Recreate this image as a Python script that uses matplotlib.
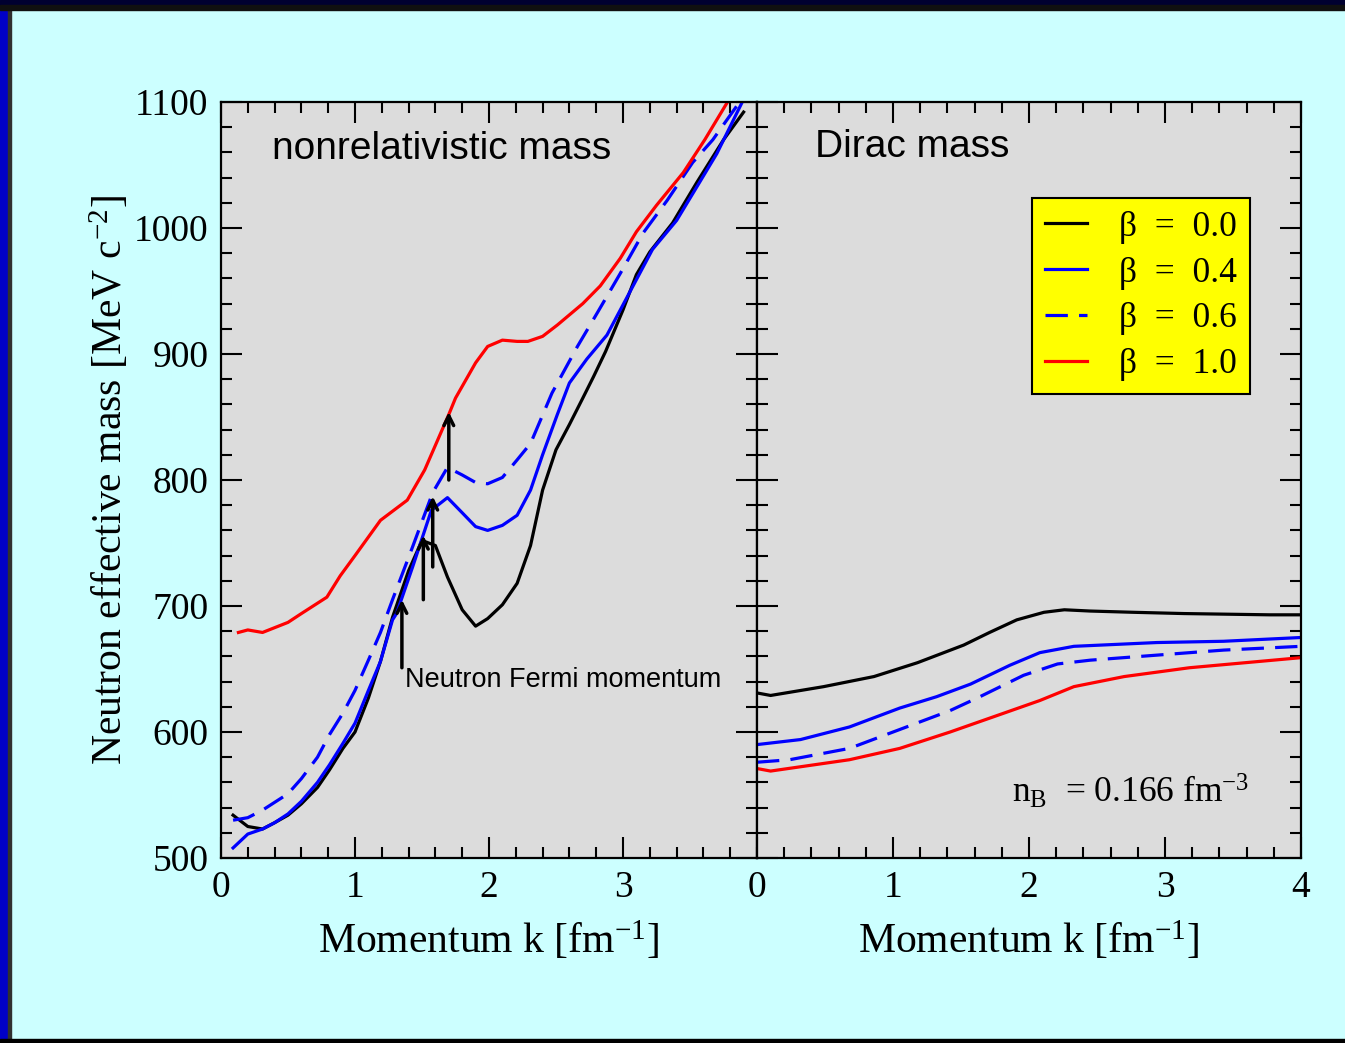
import matplotlib
matplotlib.use("Agg")
import matplotlib.pyplot as plt
from matplotlib.patches import Rectangle
from matplotlib.lines import Line2D
from matplotlib.ticker import MultipleLocator

plt.rcParams['font.family'] = ['Liberation Serif', 'DejaVu Serif']
plt.rcParams['mathtext.fontset'] = 'custom'
plt.rcParams['mathtext.rm'] = 'Liberation Serif'
plt.rcParams['mathtext.it'] = 'Liberation Serif:italic'

# ---------------- data ----------------
# Left panel: nonrelativistic mass
k_b00_L = [0.09, 0.20, 0.31, 0.40, 0.50, 0.60, 0.72, 0.81, 0.91, 1.00, 1.10, 1.19, 1.28, 1.40, 1.50,
           1.60, 1.69, 1.80, 1.90, 1.99, 2.10, 2.21, 2.31, 2.40, 2.50, 2.60, 2.70, 2.78, 2.87, 3.00,
           3.10, 3.20, 3.37, 3.55, 3.75, 3.90]
m_b00_L = [534, 525, 523, 528, 534, 543, 556, 570, 587, 600, 627, 656, 691, 728, 752,
           748, 723, 697, 684, 690, 701, 718, 748, 792, 824, 844, 865, 882, 902, 935,
           963, 981, 1004, 1036, 1070, 1092]

k_b04_L = [0.09, 0.20, 0.31, 0.40, 0.50, 0.60, 0.72, 0.81, 0.91, 1.00, 1.10, 1.19, 1.28, 1.31, 1.43,
           1.57, 1.69, 1.80, 1.90, 1.99, 2.10, 2.21, 2.31, 2.40, 2.51, 2.60, 2.73, 2.88, 3.07, 3.22,
           3.40, 3.57, 3.70, 3.89]
m_b04_L = [508, 519, 523, 528, 535, 545, 560, 574, 591, 607, 633, 656, 689, 694, 731,
           776, 786, 774, 763, 760, 764, 772, 792, 820, 852, 877, 896, 915, 953, 983,
           1006, 1036, 1059, 1100]

k_b06_L = [0.09, 0.20, 0.31, 0.50, 0.60, 0.72, 0.81, 0.91, 1.00, 1.10, 1.19, 1.28, 1.43, 1.58,
           1.69, 1.80, 1.90, 1.99, 2.10, 2.21, 2.31, 2.47, 2.66, 2.81, 2.98, 3.15, 3.33, 3.52,
           3.67, 3.87]
m_b06_L = [530, 532, 538, 551, 563, 580, 598, 615, 633, 657, 679, 705, 747, 790,
           810, 804, 798, 797, 802, 816, 829, 869, 906, 933, 964, 996, 1022, 1052,
           1070, 1100]

k_b10_L = [0.13, 0.20, 0.31, 0.50, 0.60, 0.79, 0.89, 1.00, 1.19, 1.39, 1.52, 1.70, 1.75, 1.90,
           1.99, 2.10, 2.21, 2.29, 2.40, 2.51, 2.70, 2.83, 2.98, 3.10, 3.25, 3.45, 3.61, 3.78]
m_b10_L = [679, 681, 679, 687, 694, 707, 724, 740, 768, 784, 808, 852, 865, 893,
           906, 911, 910, 910, 914, 923, 940, 954, 976, 997, 1018, 1044, 1070, 1100]

# Right panel: Dirac mass
k_b00_R = [0.00, 0.10, 0.49, 0.86, 1.18, 1.52, 1.71, 1.91, 2.11, 2.26, 2.45, 2.77, 3.14, 3.77, 4.00]
m_b00_R = [631, 629, 636, 644, 655, 669, 679, 689, 695, 697, 696, 695, 694, 693, 693]

k_b04_R = [0.00, 0.32, 0.68, 1.05, 1.32, 1.57, 1.86, 2.08, 2.33, 2.94, 3.43, 4.00]
m_b04_R = [590, 594, 604, 619, 628, 638, 653, 663, 668, 671, 672, 675]

k_b06_R = [0.00, 0.24, 0.68, 1.05, 1.42, 1.62, 1.96, 2.21, 2.45, 2.94, 3.43, 4.00]
m_b06_R = [576, 578, 587, 602, 617, 627, 645, 654, 657, 661, 665, 668]

k_b10_R = [0.00, 0.10, 0.68, 1.05, 1.42, 1.79, 2.08, 2.33, 2.70, 3.18, 4.00]
m_b10_R = [571, 569, 578, 587, 600, 614, 625, 636, 644, 651, 659]

beta_labels = ["0.0", "0.4", "0.6", "1.0"]

# neutron Fermi momenta (arrows): tail and head masses
fermi_k = [1.35, 1.51, 1.58, 1.70]
arrow_tail = [651, 705, 731, 800]
arrow_head = [705, 756, 787, 854]

# ---------------- figure ----------------
W, H = 1345, 1043
fig = plt.figure(figsize=(W / 100, H / 100), dpi=100)
fig.patch.set_facecolor('#ccffff')

# window-like frame
fig.patches.append(Rectangle((0, 0), 8 / W, 1, transform=fig.transFigure, color='#0000c8', zorder=0))
fig.patches.append(Rectangle((8 / W, 0), 3 / W, 1, transform=fig.transFigure, color='#303030', zorder=0))
fig.patches.append(Rectangle((0, 1 - 5 / H), 1, 5 / H, transform=fig.transFigure, color='#000030', zorder=0))
fig.patches.append(Rectangle((0, 1 - 10 / H), 1, 5 / H, transform=fig.transFigure, color='#101010', zorder=0))
fig.patches.append(Rectangle((0, 0), 1, 4 / H, transform=fig.transFigure, color='#000000', zorder=0))

bot = 1 - 858 / H
top = 1 - 102 / H
axL = fig.add_axes([221 / W, bot, (757 - 221) / W, top - bot])
axR = fig.add_axes([757 / W, bot, (1301 - 757) / W, top - bot])

lw = 2.3
styles = [dict(color='black', lw=lw),
          dict(color='#0000ff', lw=lw),
          dict(color='#0000ff', lw=lw, dashes=(7, 3.5)),
          dict(color='#ff0000', lw=lw)]

for ax in (axL, axR):
    ax.set_facecolor('#dcdcdc')
    ax.set_xlim(0, 4)
    ax.set_ylim(500, 1100)
    ax.xaxis.set_major_locator(MultipleLocator(1))
    ax.xaxis.set_minor_locator(MultipleLocator(0.2))
    ax.yaxis.set_major_locator(MultipleLocator(100))
    ax.yaxis.set_minor_locator(MultipleLocator(20))
    ax.tick_params(which='both', direction='in', top=True, right=True, width=1.5, colors='black')
    ax.tick_params(which='major', length=15)
    ax.tick_params(which='minor', length=8)
    ax.tick_params(axis='both', labelsize=27, pad=9)
    for s in ax.spines.values():
        s.set_linewidth(1.6)
    ax.set_xlabel('Momentum k [fm$^{-1}$]', fontsize=30, labelpad=10)

axL.set_xticks([0, 1, 2, 3])
axL.set_xticklabels(['0', '1', '2', '3'])
axR.set_yticklabels([])
axL.set_ylabel('Neutron effective mass [MeV c$^{-2}$]', fontsize=30, labelpad=2)

left_sets = [(k_b00_L, m_b00_L), (k_b04_L, m_b04_L), (k_b06_L, m_b06_L), (k_b10_L, m_b10_L)]
right_sets = [(k_b00_R, m_b00_R), (k_b04_R, m_b04_R), (k_b06_R, m_b06_R), (k_b10_R, m_b10_R)]
for (k, m), st in zip(left_sets, styles):
    axL.plot(k, m, clip_on=True, **st)
for (k, m), st in zip(right_sets, styles):
    axR.plot(k, m, clip_on=True, **st)

for kf, t, h in zip(fermi_k, arrow_tail, arrow_head):
    axL.annotate('', xy=(kf, h), xytext=(kf, t),
                 arrowprops=dict(arrowstyle='->,head_length=0.7,head_width=0.35', color='black', lw=2.5,
                                 shrinkA=0, shrinkB=0))

sans = ['Liberation Sans', 'DejaVu Sans']
axL.text(0.38, 1063, 'nonrelativistic mass', family=sans, fontsize=28, va='center', ha='left')
axR.text(0.43, 1064, 'Dirac mass', family=sans, fontsize=28, va='center', ha='left')
axL.text(1.373, 641, 'Neutron Fermi momentum', family=sans, fontsize=19.5, va='center', ha='left')
axR.text(1.875, 543.5, 'n$_{\\mathrm{B}}$  = 0.166 fm$^{-3}$', fontsize=25.5, va='baseline', ha='left')

handles = [Line2D([], [], **st) for st in styles]
labels = ['\u03b2  =  ' + b for b in beta_labels]
leg = axR.legend(handles, labels, loc='upper left',
                 bbox_to_anchor=(1032 / W, 1 - 198 / H), bbox_transform=fig.transFigure,
                 fontsize=25.5, frameon=True, fancybox=False, framealpha=1,
                 facecolor='#ffff00', edgecolor='black', handlelength=1.2,
                 handletextpad=0.9, labelspacing=0.36, borderpad=0.36, borderaxespad=0)
leg.get_frame().set_linewidth(1.5)

fig.savefig('out.png', dpi=100, facecolor=fig.get_facecolor())
